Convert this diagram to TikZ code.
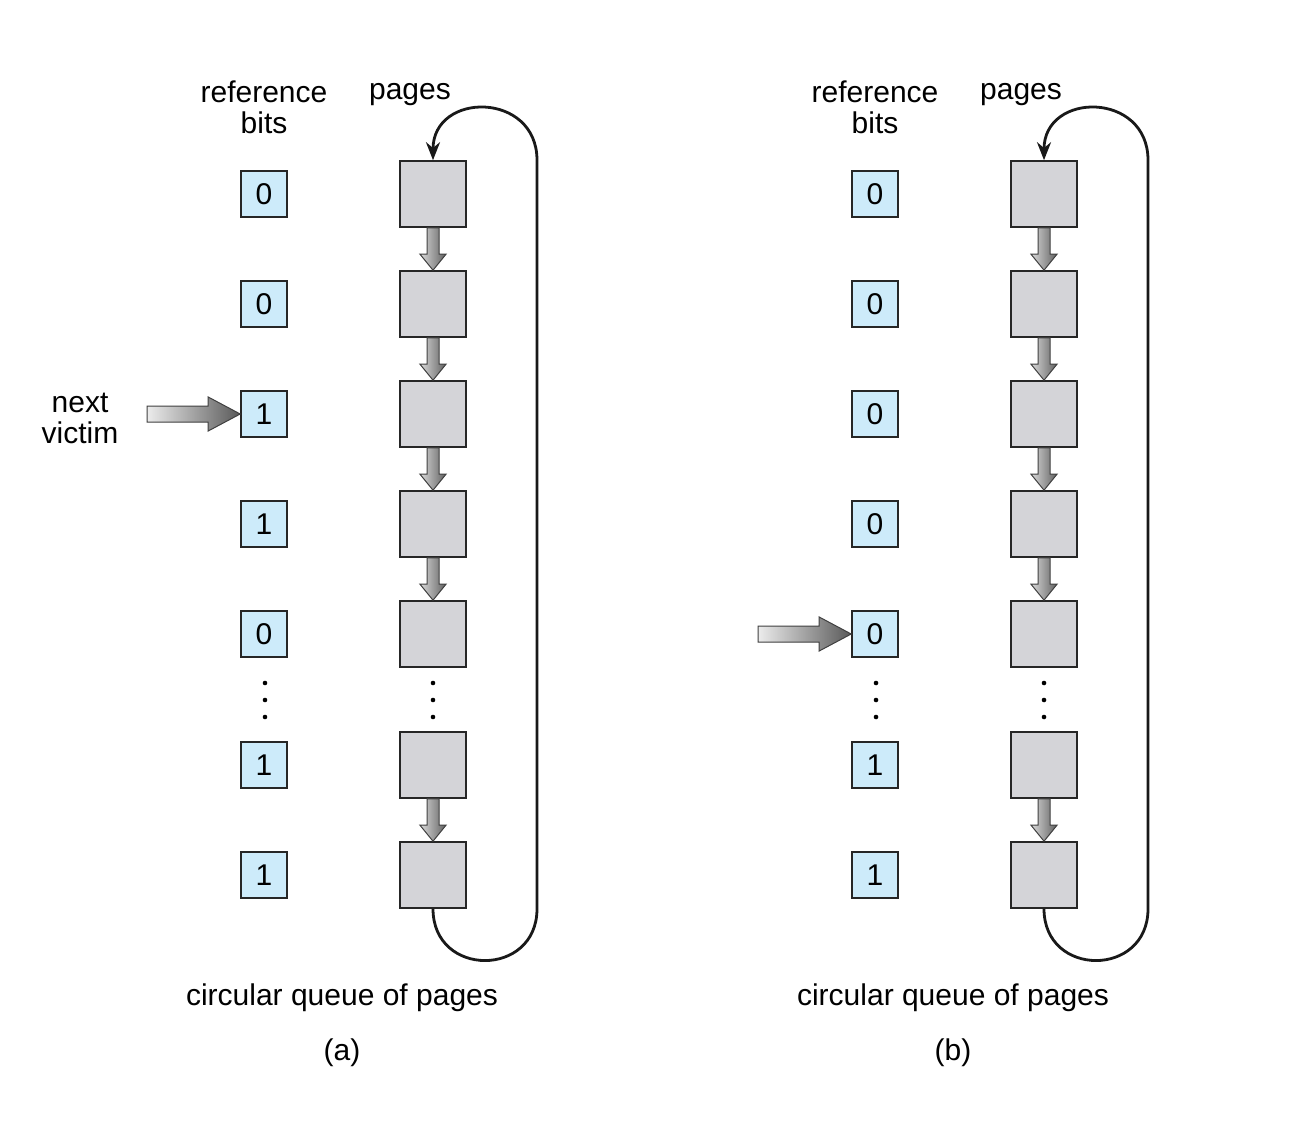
\documentclass[tikz,border=0pt]{standalone}
\usepackage{fontspec}
\setmainfont{Liberation Sans}
\usetikzlibrary{arrows.meta,calc}
\definecolor{bitblue}{HTML}{CDEBFA}
\definecolor{pagegray}{HTML}{D4D4D8}
\tikzset{
  bitbox/.style={draw=black!85, fill=bitblue, line width=0.8pt, minimum width=23pt, minimum height=23pt, inner sep=0pt, font=\fontsize{15}{17}\selectfont},
  pagebox/.style={draw=black!85, fill=pagegray, line width=0.8pt, minimum width=33pt, minimum height=33pt, inner sep=0pt},
  lbl/.style={font=\fontsize{15}{15.5}\selectfont, align=center, inner sep=0pt},
  dotmark/.style={circle, fill=black, inner sep=0pt, minimum size=2.3pt},
  looppath/.style={line width=1.4pt, black!90},
  vblock/.style={draw=black!75, line width=0.5pt, left color=gray!30, right color=black!62},
  hblock/.style={draw=black!75, line width=0.5pt, left color=gray!15, right color=black!65},
}
\newcommand\downblock[2]{%
  \path[vblock] ([xshift=-3pt]#1.south) -- ([xshift=-3pt,yshift=8pt]#2.north) -- ([xshift=-6.5pt,yshift=8pt]#2.north) -- (#2.north) -- ([xshift=6.5pt,yshift=8pt]#2.north) -- ([xshift=3pt,yshift=8pt]#2.north) -- ([xshift=3pt]#1.south) -- cycle;}
\newcommand\victimblock[2]{%
  \path[hblock] ([yshift=4pt]#1) -- ([xshift=-16pt,yshift=4pt]#2.west) -- ([xshift=-16pt,yshift=8.5pt]#2.west) -- (#2.west) -- ([xshift=-16pt,yshift=-8.5pt]#2.west) -- ([xshift=-16pt,yshift=-4pt]#2.west) -- ([yshift=-4pt]#1) -- cycle;}
\newcommand\drawpanel[4]{%
  \foreach \v [count=\i] in {#3} {
    \pgfmathsetmacro\yy{{194,304,414,524,634,765,875}[\i-1]}
    \node[bitbox] (#1b\i) at (#2+264,\yy) {\v};
    \node[pagebox] (#1p\i) at (#2+433,\yy) {};
  }
  \foreach \i/\j in {1/2,2/3,3/4,4/5,6/7} {\downblock{#1p\i}{#1p\j}}
  \foreach \yy in {683,700,717} {
    \node[dotmark] (#1db\yy) at (#2+265,\yy) {};
    \node[dotmark] (#1dp\yy) at (#2+433,\yy) {};
  }
  \draw[looppath, -{Stealth[length=9pt,width=7pt]}] (#1p7.south) .. controls +(0,69) and +(0,69) .. ([xshift=52pt]#1p7.south) -- ([xshift=52pt]#1p1.north) .. controls +(0,-69) and +(0,-69) .. (#1p1.north);
  \node[lbl] (#1refl) at (#2+264,107) {reference\\bits};
  \node[lbl, anchor=base] (#1pagl) at (#2+410,100) {pages};
  \node[lbl] (#1cq) at (#2+342,998) {circular queue of pages};
  \node[lbl] (#1cap) at (#2+342,1053) {(#4)};
}
\begin{document}
\begin{tikzpicture}[x=0.5pt,y=-0.5pt]
  \useasboundingbox[fill=white] (0,0) rectangle (1305,1128);
  \drawpanel{a}{0}{0,0,1,1,0,1,1}{a}
  \drawpanel{b}{611}{0,0,0,0,0,1,1}{b}
  \node[lbl] (nv) at (80,418) {next\\victim};
  \coordinate (va) at (147,414);
  \victimblock{va}{ab3}
  \coordinate (vb) at (758,634);
  \victimblock{vb}{bb5}
\end{tikzpicture}
\end{document}
